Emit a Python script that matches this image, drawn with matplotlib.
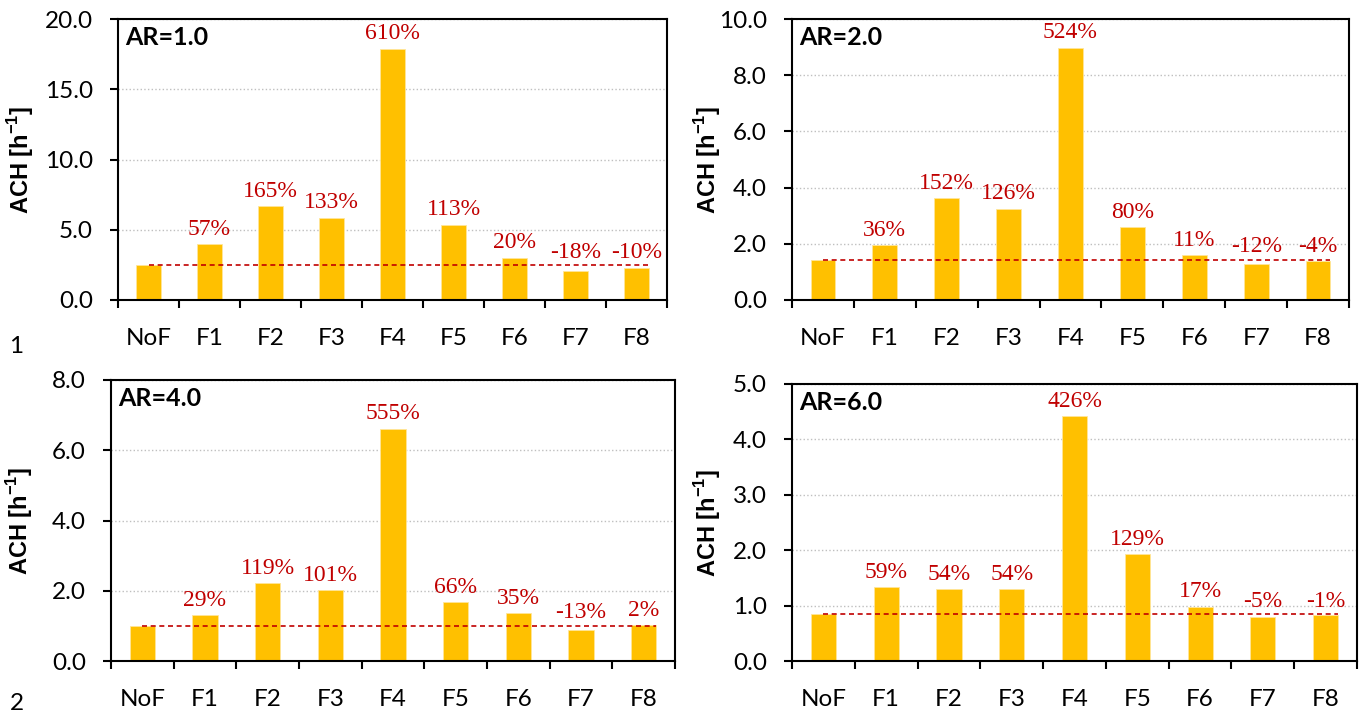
import numpy as np
import matplotlib
matplotlib.use("Agg")
import matplotlib.pyplot as plt
from matplotlib.ticker import MultipleLocator, FormatStrFormatter

plt.rcParams['font.family'] = ['Lato', 'DejaVu Sans']
plt.rcParams['mathtext.fontset'] = 'custom'
plt.rcParams['mathtext.rm'] = 'Liberation Sans'
plt.rcParams['mathtext.bf'] = 'Liberation Sans:bold'

# categories: reference case without feature + eight configurations
categories = ['NoF', 'F1', 'F2', 'F3', 'F4', 'F5', 'F6', 'F7', 'F8']
aspect_ratios = ['AR=1.0', 'AR=2.0', 'AR=4.0', 'AR=6.0']

# ACH of the NoF case for each aspect ratio [1/h]
nof_ach = [2.52, 1.44, 1.01, 0.84]

# change in ACH relative to NoF, F1..F8 [%]
change_ar1 = [57, 165, 133, 610, 113, 20, -18, -10]
change_ar2 = [36, 152, 126, 524, 80, 11, -12, -4]
change_ar4 = [29, 119, 101, 555, 66, 35, -13, 2]
change_ar6 = [59, 54, 54, 426, 129, 17, -5, -1]
changes = [change_ar1, change_ar2, change_ar4, change_ar6]

# y axis limits / steps per panel
y_max = [20.0, 10.0, 8.0, 5.0]
y_step = [5.0, 2.0, 2.0, 1.0]

# axes boxes in pixels: left, right, top, bottom
W, H = 1363, 713
boxes = [(118, 667, 19, 300), (792, 1349, 19, 300),
         (111, 675, 380, 661), (792, 1357, 384, 661)]
ylabel_x = [-0.150, -0.124, -0.135, -0.122]

BAR = '#FFC000'
RED = '#C00000'

fig = plt.figure(figsize=(W / 100, H / 100), dpi=100)

for i in range(4):
    l, r, t, b = boxes[i]
    ax = fig.add_axes([l / W, 1 - b / H, (r - l) / W, (b - t) / H])

    base = nof_ach[i]
    values = [base] + [base * (1 + c / 100.) for c in changes[i]]
    x = np.arange(len(categories))

    ax.bar(x, values, width=0.4, color=BAR, edgecolor='#FFE699', linewidth=0.6, zorder=2)
    ax.plot([0, len(categories) - 1 + 0.2], [base, base], color=RED,
            linestyle=(0, (3, 2.2)), linewidth=1.2, zorder=3)

    for k, c in enumerate(changes[i]):
        v = values[k + 1]
        off = 3 if v > base else 1.5
        ax.annotate('%d%%' % c, xy=(k + 1, max(v, base)), xytext=(0, off),
                    textcoords='offset points', ha='center', va='bottom',
                    color=RED, fontsize=17, family='Liberation Serif', zorder=4)

    ax.set_xlim(-0.5, len(categories) - 0.5)
    ax.set_ylim(0, y_max[i])
    ax.yaxis.set_major_locator(MultipleLocator(y_step[i]))
    ax.yaxis.set_major_formatter(FormatStrFormatter('%.1f'))
    ax.set_xticks(x)
    ax.set_xticklabels(categories)
    ax.set_xticks(np.arange(-0.5, len(categories)), minor=True)
    ax.tick_params(axis='x', which='major', length=0, pad=20, labelsize=17.5)
    ax.tick_params(axis='x', which='minor', length=6, width=1.5, direction='out')
    ax.tick_params(axis='y', length=6, width=1.5, direction='out', pad=12, labelsize=17.5)

    ax.yaxis.grid(True, linestyle=':', color='#BFBFBF', linewidth=1.0, zorder=0)
    ax.set_axisbelow(True)
    for s in ax.spines.values():
        s.set_linewidth(1.5)
        s.set_color('black')

    ax.set_ylabel(r'ACH [h$^{\mathbf{-1}}$]', fontsize=17, fontweight='bold',
                  family='Liberation Sans')
    ax.yaxis.set_label_coords(ylabel_x[i], 0.5)

    ax.annotate(aspect_ratios[i], xy=(0, 1), xycoords='axes fraction',
                xytext=(5, -5), textcoords='offset points', ha='left', va='top',
                fontsize=18, fontweight='bold')

# panel row numbers at the left edge
fig.text(16 / W, 1 - 346 / H, '1', fontsize=17.5, ha='center', va='center')
fig.text(17 / W, 1 - 693 / H, '2', fontsize=17.5, ha='center', va='top')

fig.savefig('out.png', dpi=100)
